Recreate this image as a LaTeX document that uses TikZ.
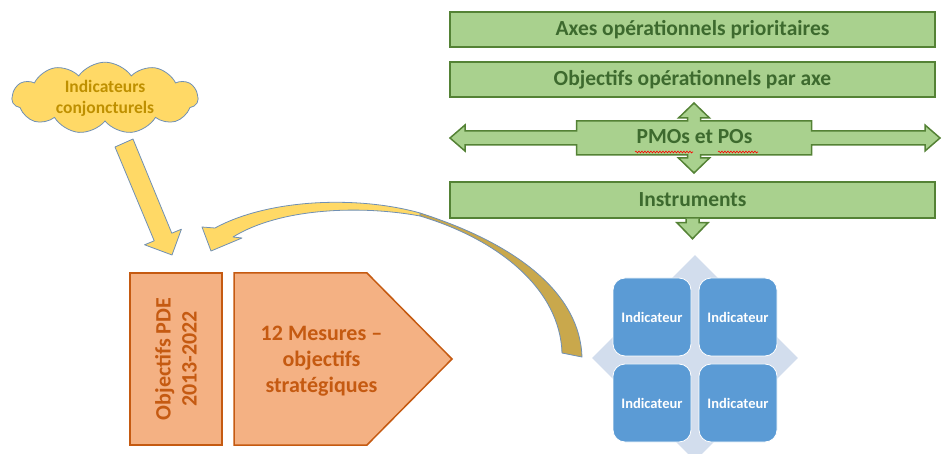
\documentclass[tikz,border=0pt]{standalone}
\usepackage{fontspec}
\setmainfont{Carlito}
\usetikzlibrary{shapes.geometric}
\usetikzlibrary{shapes.symbols}
\usetikzlibrary{positioning}
\usetikzlibrary{decorations.pathmorphing}
\definecolor{greenfill}{HTML}{A9D18E}
\definecolor{greenline}{HTML}{548235}
\definecolor{greentext}{HTML}{3D6A2E}
\definecolor{orangefill}{HTML}{F4B183}
\definecolor{orangeline}{HTML}{C55A11}
\definecolor{bluefill}{HTML}{5B9BD5}
\definecolor{diamondfill}{HTML}{D2DDED}
\definecolor{yellowfill}{HTML}{FFD966}
\definecolor{goldfill}{HTML}{C9A84C}
\definecolor{yellowtext}{HTML}{BF9000}
\definecolor{edgeblue}{HTML}{7090B4}

\begin{document}
\begin{tikzpicture}[x=1pt,y=-1pt,
    green box/.style={rectangle,draw=greenline,line width=1.5pt,fill=greenfill,text=greentext,font=\fontsize{21.5}{24}\selectfont\bfseries,minimum width=485pt,minimum height=35pt,inner sep=0pt},
    green arrow/.style={draw=greenline,line width=1.5pt,fill=greenfill,line join=miter},
    orange box/.style={draw=orangeline,line width=1.5pt,fill=orangefill},
    orange text/.style={text=orangeline,font=\fontsize{22}{26}\selectfont\bfseries,align=center,inner sep=0pt},
    blue node/.style={rectangle,rounded corners=12pt,draw=white,line width=0.8pt,fill=bluefill,text=white,font=\fontsize{14.5}{16}\selectfont\bfseries,minimum width=78pt,minimum height=78pt,inner sep=0pt},
    yellow shape/.style={draw=edgeblue,line width=0.8pt,fill=yellowfill,line join=round}]
  \useasboundingbox (0,0) rectangle (943,454);

  % operational side
  \node[green box] (axes) at (692.5,29.5) {Axes opérationnels prioritaires};
  \node[green box] (objop) at (692.5,79.5) {Objectifs opérationnels par axe};
  \begin{scope}[shift={(694,138)}]
    \draw[green arrow] (-244,0) -- (-229,-13) -- (-229,-7) -- (-117.5,-7) -- (-117.5,-17)
      -- (-6.5,-17) -- (-6.5,-20) -- (-15.5,-20) -- (0,-35) -- (15.5,-20) -- (6.5,-20) -- (6.5,-17)
      -- (117.5,-17) -- (117.5,-7) -- (231,-7) -- (231,-13) -- (246,0) -- (231,13) -- (231,7)
      -- (117.5,7) -- (117.5,17) -- (6.5,17) -- (6.5,20) -- (15.5,20) -- (0,35) -- (-15.5,20)
      -- (-6.5,20) -- (-6.5,17) -- (-117.5,17) -- (-117.5,7) -- (-229,7) -- (-229,13) -- cycle;
  \end{scope}
  \node[text=greentext,font=\fontsize{21.5}{24}\selectfont\bfseries] (pmo) at (694.5,137) {PMOs et POs};
  \draw[red,line width=0.6pt,decorate,decoration={snake,amplitude=0.9pt,segment length=3pt}] (635,152) -- (693,152);
  \draw[red,line width=0.6pt,decorate,decoration={snake,amplitude=0.9pt,segment length=3pt}] (718,152) -- (758,152);
  \node[green box,minimum height=36pt] (instr) at (692.5,200) {Instruments};
  \begin{scope}[shift={(instr.south)}]
    \draw[green arrow] (-6.5,0) -- (-6.5,4) -- (-15.5,4) -- (0,20) -- (15.5,4) -- (6.5,4) -- (6.5,0);
  \end{scope}

  % indicateurs
  \node[diamond,fill=diamondfill,minimum width=206pt,minimum height=206pt,inner sep=0pt] (losange) at (695,358) {};
  \node[blue node] (ind1) at (652,317) {Indicateur};
  \node[blue node] (ind2) at (738,317) {Indicateur};
  \node[blue node] (ind3) at (652,403) {Indicateur};
  \node[blue node] (ind4) at (738,403) {Indicateur};

  % PDE
  \node[rectangle,orange box,rotate=90,minimum width=172pt,minimum height=92pt,inner sep=0pt,
    text=orangeline,font=\fontsize{22}{26}\selectfont\bfseries,align=center] (pde) at (176,359) {Objectifs PDE\\2013-2022};
  \draw[orange box] (234,273) -- (367,273) -- (452,359) -- (367,445) -- (234,445) -- cycle;
  \node[orange text] (mesures) at (321.5,361) {12 Mesures --\\objectifs\\stratégiques};

  % nuage
  \node[cloud,cloud puffs=11,cloud puff arc=110,aspect=2.6,draw=edgeblue,line width=0.8pt,fill=yellowfill,
    minimum width=186pt,minimum height=70pt,inner sep=0pt,text=yellowtext,
    font=\fontsize{17.5}{21}\selectfont\bfseries,align=center] (nuage) at (105,98) {Indicateurs\\conjoncturels};
  \draw[yellow shape] (115,147) -- (133,139) -- (171.8,233.2) -- (181.4,229.2) -- (172,255)
    -- (144.6,244.8) -- (154.2,240.8) -- cycle;

  % fleche courbe
  \draw[yellow shape,fill=goldfill] (420,213) .. controls (520,245) and (580,295) .. (582,357)
    -- (562,353) .. controls (560,290) and (500,240) .. (420,216) -- cycle;
  \draw[yellow shape] (420,213) .. controls (360,196) and (270,198) .. (215,228) -- (202,227)
    -- (211,251) -- (242,238) -- (233,237) .. controls (280,208) and (360,205) .. (420,216) -- cycle;
\end{tikzpicture}
\end{document}
